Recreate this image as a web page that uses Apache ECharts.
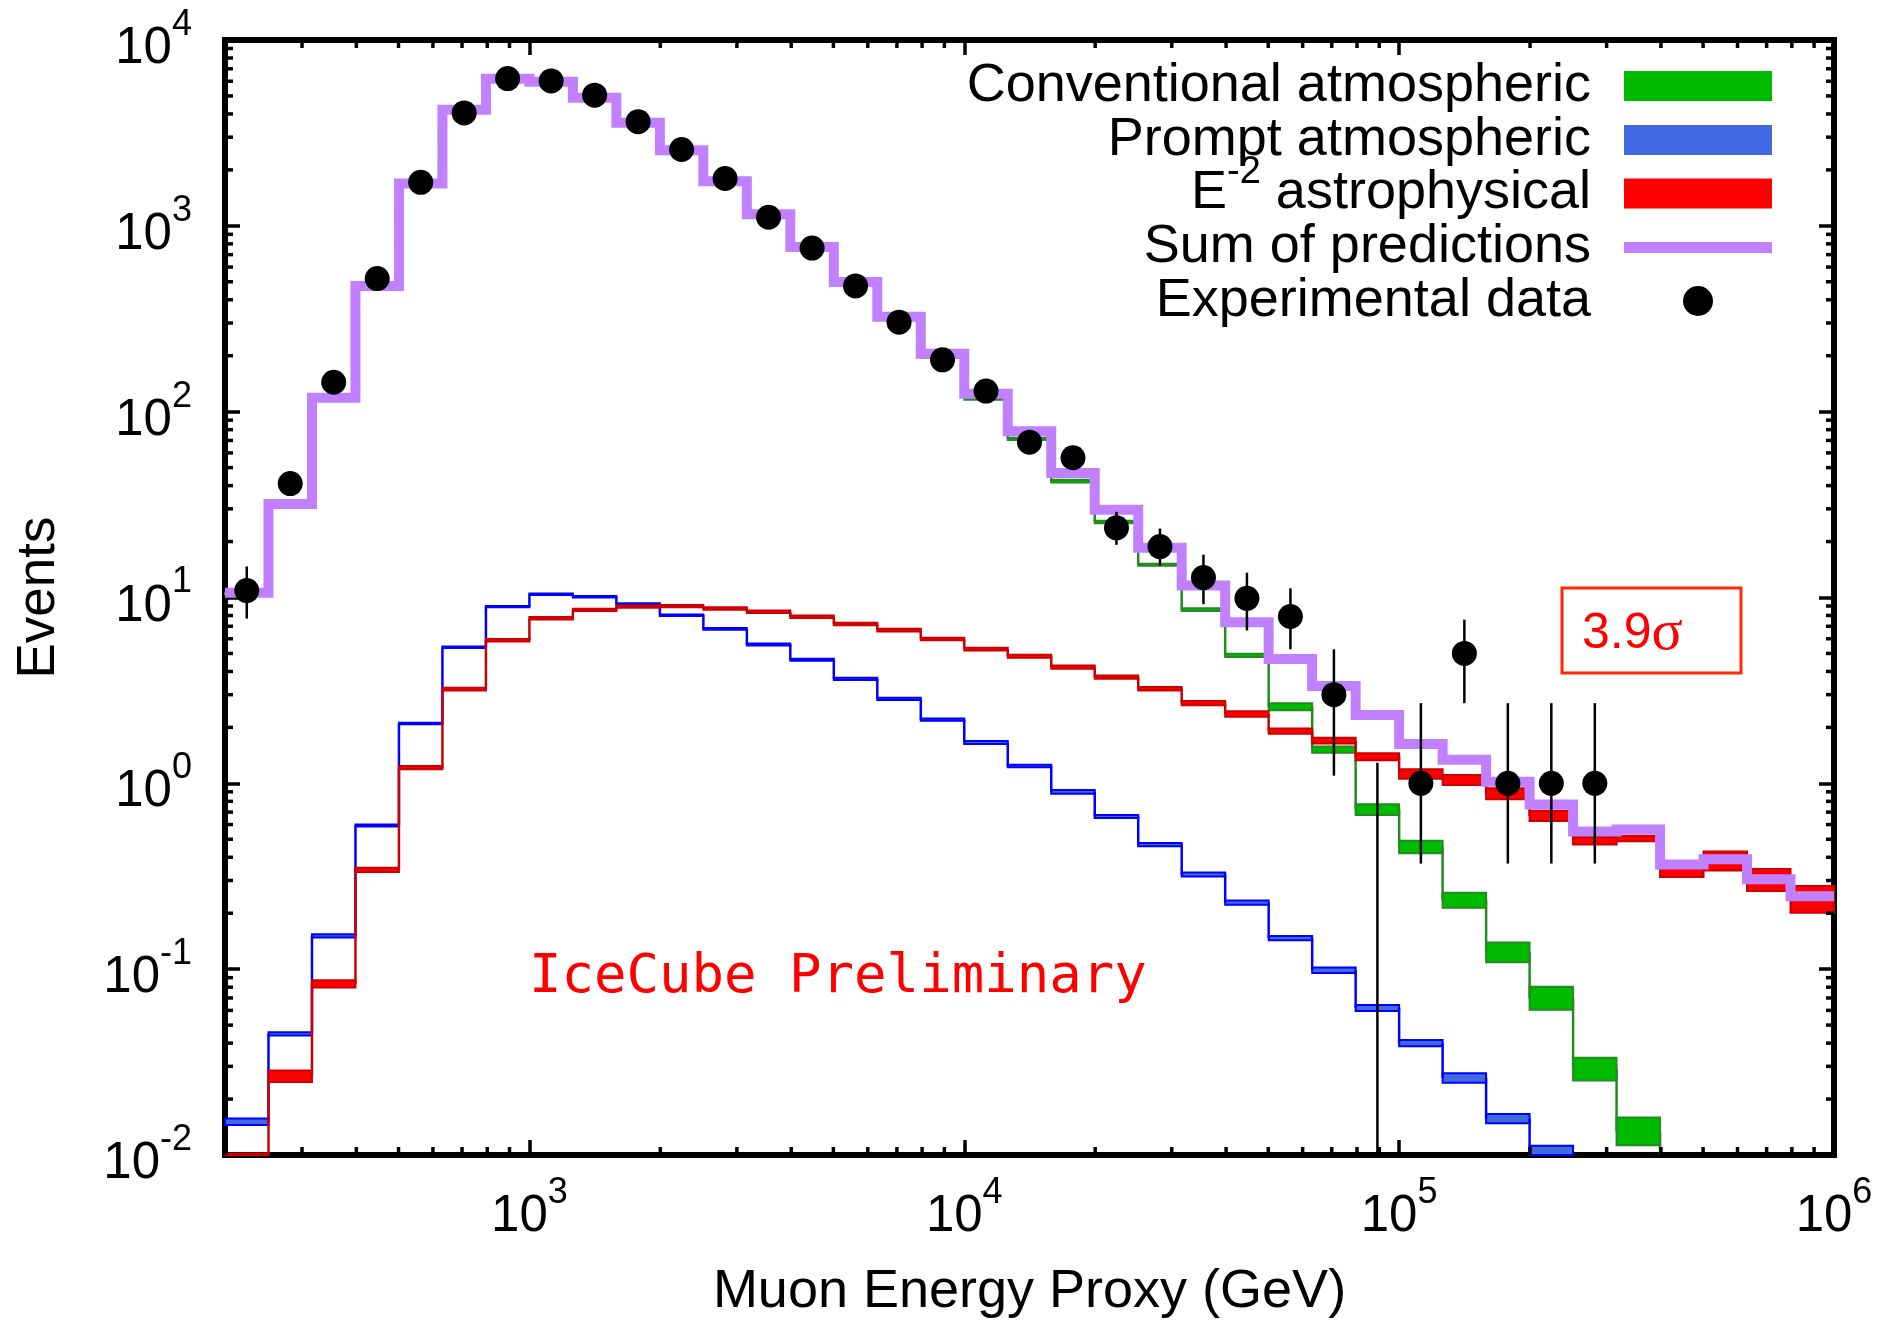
<!DOCTYPE html>
<html>
<head>
<meta charset="utf-8">
<title>Muon Energy Proxy</title>
<script src="https://cdn.jsdelivr.net/npm/echarts@6/dist/echarts.min.js"></script>
<style>
  html, body { margin: 0; padding: 0; background: #fff; }
  #chart { width: 1898px; height: 1324px; }
</style>
</head>
<body>
<div id="chart"></div>
<script>
// bin edges, log10(E / GeV)
const edgeExp = [2.3, 2.4, 2.5, 2.6, 2.7, 2.8, 2.9, 3.0, 3.1, 3.2, 3.3, 3.4, 3.5, 3.6, 3.7, 3.8, 3.9,
  4.0, 4.1, 4.2, 4.3, 4.4, 4.5, 4.6, 4.7, 4.8, 4.9, 5.0, 5.1, 5.2, 5.3, 5.4, 5.5, 5.6, 5.7, 5.8, 5.9, 6.0];

// one value per bin (37 bins)
const sumPred = [10.6, 31.9, 119, 475, 1690, 4220, 6180, 5960, 4890, 3590, 2550, 1740, 1155, 769, 499, 324, 205,
  125, 78.5, 46.8, 29.7, 18.5, 11.6, 7.35, 4.66, 3.34, 2.33, 1.63, 1.34, 1.02, 0.77, 0.55, 0.565, 0.366, 0.39, 0.305, 0.247];

const dataEvents = [10.9, 41, 144, 520, 1715, 4050, 6200, 6020, 5050, 3635, 2575, 1798, 1112, 759, 475, 303, 190,
  129, 68.5, 56.5, 23.7, 18.8, 12.8, 9.9, 7.9, 3.0, null, 1, 5, 1, 1, 1, null, null, null, null, null];
const errLo = [7.7, null, null, null, null, null, null, null, null, null, null, null, null, null, null, null, null,
  null, null, null, 19.2, 14.8, 9.2, 6.65, 5.26, 1.1, 0.001, 0.37, 2.7, 0.37, 0.37, 0.37, null, null, null, null, null];
const errHi = [14.7, null, null, null, null, null, null, null, null, null, null, null, null, null, null, null, null,
  null, null, null, 28.9, 23.5, 17, 13.6, 11.2, 5.26, 1.29, 2.7, 7.6, 2.7, 2.7, 2.7, null, null, null, null, null];

const convLo = [10.4, 31.5, 118, 470, 1680, 4180, 6120, 5900, 4840, 3550, 2520, 1715, 1130, 750, 484, 311, 195,
  116, 70.3, 41.6, 25.1, 14.8, 8.45, 4.78, 2.47, 1.46, 0.676, 0.421, 0.214, 0.109, 0.0605, 0.0252, 0.0113, 0.0048, null, null, null];
const convHi = [10.6, 32.1, 120, 478, 1700, 4230, 6200, 5980, 4900, 3600, 2550, 1740, 1150, 762, 492, 317, 199,
  120, 72.3, 43, 25.9, 15.2, 8.75, 4.98, 2.70, 1.58, 0.771, 0.491, 0.258, 0.139, 0.0803, 0.0334, 0.0159, 0.0068, null, null, null];

const promptLo = [0.0145, 0.044, 0.148, 0.585, 2.08, 5.35, 8.85, 10.3, 10.0, 9.1, 7.95, 6.7, 5.52, 4.57, 3.6, 2.81, 2.17,
  1.63, 1.22, 0.88, 0.65, 0.458, 0.315, 0.222, 0.143, 0.0955, 0.0595, 0.0385, 0.0245, 0.0148, 0.0100, null, null, null, null, null, null];
const promptHi = [0.0157, 0.0458, 0.154, 0.6, 2.12, 5.45, 9.0, 10.5, 10.2, 9.3, 8.1, 6.85, 5.65, 4.68, 3.7, 2.89, 2.23,
  1.69, 1.26, 0.92, 0.675, 0.478, 0.331, 0.234, 0.151, 0.102, 0.0642, 0.0416, 0.0275, 0.0166, 0.0112, null, null, null, null, null, null];

const astroLo = [0.0098, 0.0247, 0.0798, 0.333, 1.19, 3.16, 5.8, 7.62, 8.45, 8.8, 8.85, 8.6, 8.25, 7.75, 7.08, 6.57, 5.88,
  5.19, 4.74, 4.14, 3.65, 3.16, 2.63, 2.28, 1.85, 1.64, 1.33, 1.06, 0.98, 0.82, 0.628, 0.468, 0.488, 0.313, 0.34, 0.263, 0.201];
const astroHi = [0.0102, 0.0285, 0.0873, 0.351, 1.24, 3.27, 5.98, 7.85, 8.7, 9.05, 9.1, 8.85, 8.5, 8.0, 7.32, 6.8, 6.08,
  5.37, 4.92, 4.3, 3.8, 3.3, 2.77, 2.44, 1.97, 1.76, 1.45, 1.19, 1.11, 0.94, 0.711, 0.514, 0.523, 0.38, 0.43, 0.346, 0.28];

const legendNames = ['Conventional atmospheric', 'Prompt atmospheric', 'E-2 astrophysical',
  'Sum of predictions', 'Experimental data'];

const edges = edgeExp.map(e => Math.pow(10, e));
const xMin = edges[0], xMax = edges[edges.length - 1];
const yMin = 0.01, yMax = 10000;
const font = 'Liberation Sans';

function bandData(lo, hi) {
  const out = [];
  for (let i = 0; i < lo.length; i++) {
    if (lo[i] == null) continue;
    const prev = i > 0 && lo[i - 1] != null ? Math.sqrt(lo[i - 1] * hi[i - 1]) : null;
    out.push([edges[i], edges[i + 1], lo[i], hi[i], prev]);
  }
  return out;
}

function clampY(cs, y) {
  return Math.min(Math.max(y, cs.y), cs.y + cs.height);
}

function bandRenderer(fill, stroke) {
  return function (params, api) {
    const cs = params.coordSys;
    const x0 = api.value(0), x1 = api.value(1);
    const lo = api.value(2), hi = api.value(3), prev = api.value(4);
    const a = api.coord([x0, hi]), b = api.coord([x1, lo]);
    const mid = api.coord([x0, Math.sqrt(lo * hi)]);
    const children = [];
    if (a[1] < cs.y + cs.height) {
      const top = clampY(cs, a[1]), bot = clampY(cs, b[1]);
      children.push({
        type: 'rect',
        shape: { x: a[0], y: top, width: b[0] - a[0], height: Math.max(bot - top, 0.5) },
        style: { fill: fill, stroke: stroke, lineWidth: 2 }
      });
    }
    if (!isNaN(prev)) {
      const p = api.coord([x0, prev]);
      children.push({
        type: 'line',
        shape: { x1: a[0], y1: clampY(cs, p[1]), x2: a[0], y2: clampY(cs, mid[1]) },
        style: { stroke: stroke, lineWidth: 2.5 }
      });
    }
    return { type: 'group', children: children };
  };
}

// data points, error bars
const points = [];
const bars = [];
for (let i = 0; i < dataEvents.length; i++) {
  const xc = Math.sqrt(edges[i] * edges[i + 1]);
  if (dataEvents[i] != null) points.push([xc, dataEvents[i]]);
  if (errLo[i] != null) bars.push([xc, errLo[i], errHi[i]]);
}

const sumLine = edges.map((e, i) => [e, sumPred[Math.min(i, sumPred.length - 1)]]);

// minor ticks at 2..9 x 10^n
const minorTicks = [];
for (let n = 2; n <= 5; n++) {
  for (let k = 2; k <= 9; k++) {
    const v = k * Math.pow(10, n);
    if (v > xMin && v < xMax) minorTicks.push([v, 1, 0]);
  }
}
for (let n = -2; n <= 3; n++) {
  for (let k = 2; k <= 9; k++) minorTicks.push([1000, k * Math.pow(10, n), 1]);
}

function powLabel(v) {
  const l = Math.log10(v);
  const e = Math.round(l);
  if (Math.abs(l - e) > 1e-6) return '';
  return '{b|10}{s|' + e + '}';
}

const labelRich = {
  b: { fontSize: 51, fontFamily: font, color: '#000', lineHeight: 84 },
  s: { fontSize: 36, fontFamily: font, color: '#000', lineHeight: 36, verticalAlign: 'top' }
};

const axisLineStyle = { color: '#000', width: 6, cap: 'square' };
const majorTick = { show: true, inside: true, length: 15, lineStyle: { color: '#000', width: 3.5 } };

// legend: one block per entry so the rows sit exactly where they should
const legendRich = {
  t: { fontSize: 54, fontFamily: font, color: '#000', lineHeight: 30, padding: [0, 28, 0, 0] },
  e: { fontSize: 54, fontFamily: font, color: '#000', lineHeight: 30 },
  sup: { fontSize: 38, fontFamily: font, color: '#000', lineHeight: 30, padding: [0, 0, 42, 0] }
};
const legendItems = [
  { name: legendNames[0], icon: 'rect' },
  { name: legendNames[1], icon: 'rect' },
  { name: legendNames[2], icon: 'rect' },
  { name: legendNames[3], icon: 'path://M0,0H148V11H0Z' },
  { name: legendNames[4], icon: 'circle' }
];
const legendTops = [59, 113, 153.5, 220.5, 274];
const legendRights = [126, 126, 126, 126, 185];
const legends = legendItems.map((item, i) => ({
  orient: 'vertical',
  align: 'right',
  right: legendRights[i],
  top: legendTops[i],
  padding: 0,
  itemWidth: 148,
  itemHeight: 30,
  selectedMode: false,
  data: [item],
  formatter: function (name) {
    if (name === legendNames[2]) return '{e|E}{sup|-2}{t| astrophysical}';
    return '{t|' + name + '}';
  },
  textStyle: { rich: legendRich }
}));

const chart = echarts.init(document.getElementById('chart'));

const option = {
  animation: false,
  backgroundColor: '#fff',
  grid: { left: 225, right: 64, top: 40, bottom: 163 },
  xAxis: [
    {
      type: 'log', logBase: 10, min: xMin, max: xMax, position: 'bottom',
      name: 'Muon Energy Proxy (GeV)', nameLocation: 'middle', nameGap: 110,
      nameTextStyle: { fontSize: 54, fontFamily: font, color: '#000' },
      axisLine: { lineStyle: axisLineStyle },
      axisTick: majorTick,
      splitLine: { show: false },
      axisLabel: { margin: 20, formatter: powLabel, rich: labelRich }
    },
    {
      type: 'log', logBase: 10, min: xMin, max: xMax, position: 'top',
      axisLine: { lineStyle: axisLineStyle },
      axisTick: majorTick,
      splitLine: { show: false },
      axisLabel: { show: false }
    }
  ],
  yAxis: [
    {
      type: 'log', logBase: 10, min: yMin, max: yMax, position: 'left',
      name: 'Events', nameLocation: 'middle', nameGap: 159,
      nameTextStyle: { fontSize: 53, fontFamily: font, color: '#000' },
      axisLine: { lineStyle: axisLineStyle },
      axisTick: majorTick,
      splitLine: { show: false },
      axisLabel: { margin: 33, padding: [18, 0, 0, 0], formatter: powLabel, rich: labelRich }
    },
    {
      type: 'log', logBase: 10, min: yMin, max: yMax, position: 'right',
      axisLine: { lineStyle: axisLineStyle },
      axisTick: majorTick,
      splitLine: { show: false },
      axisLabel: { show: false }
    }
  ],
  legend: legends,
  graphic: [
    {
      type: 'text', x: 529, y: 978, z: 20,
      style: { text: 'IceCube Preliminary', fontSize: 54, fontFamily: 'DejaVu Sans Mono',
        fill: '#ff0000', verticalAlign: 'middle' }
    },
    {
      type: 'rect', z: 20,
      shape: { x: 1562, y: 588, width: 179, height: 85 },
      style: { fill: 'none', stroke: '#ff2a00', lineWidth: 3 }
    },
    {
      type: 'text', x: 1582, y: 634, z: 20,
      style: {
        text: '{a|3.9}{g|σ}', verticalAlign: 'middle', fill: '#ff0000',
        rich: {
          a: { fontSize: 50, fontFamily: font, fill: '#ff0000' },
          g: { fontSize: 58, fontFamily: 'Liberation Serif', fill: '#ff0000' }
        }
      }
    }
  ],
  series: [
    {
      name: legendNames[0], type: 'custom', z: 2,
      itemStyle: { color: '#00bb00' },
      renderItem: bandRenderer('#00bb00', '#228b22'),
      data: bandData(convLo, convHi)
    },
    {
      name: legendNames[1], type: 'custom', z: 3,
      itemStyle: { color: '#4169e1' },
      renderItem: bandRenderer('#4169e1', '#0000ff'),
      data: bandData(promptLo, promptHi)
    },
    {
      name: legendNames[2], type: 'custom', z: 4,
      itemStyle: { color: '#ff0000' },
      renderItem: bandRenderer('#ff0000', '#cc0000'),
      data: bandData(astroLo, astroHi)
    },
    {
      name: legendNames[3], type: 'line', z: 5,
      step: 'end', symbol: 'none', showSymbol: false,
      lineStyle: { color: '#c080ff', width: 10, join: 'miter', cap: 'butt' },
      itemStyle: { color: '#c080ff' },
      data: sumLine
    },
    {
      name: 'errors', type: 'custom', z: 6, silent: true,
      renderItem: function (params, api) {
        const cs = params.coordSys;
        const lo = api.coord([api.value(0), api.value(1)]);
        const hi = api.coord([api.value(0), api.value(2)]);
        return {
          type: 'line',
          shape: { x1: lo[0], y1: clampY(cs, lo[1]), x2: hi[0], y2: clampY(cs, hi[1]) },
          style: { stroke: '#000', lineWidth: 2.5 }
        };
      },
      data: bars
    },
    {
      name: legendNames[4], type: 'scatter', z: 7,
      symbol: 'circle', symbolSize: 25,
      itemStyle: { color: '#000', opacity: 1 },
      data: points
    },
    {
      name: 'minor ticks', type: 'custom', z: 8, silent: true,
      renderItem: function (params, api) {
        const cs = params.coordSys;
        const len = 8;
        const st = { stroke: '#000', lineWidth: 3.5 };
        if (api.value(2) === 0) {
          const px = api.coord([api.value(0), 1])[0];
          const b = cs.y + cs.height;
          return { type: 'group', children: [
            { type: 'line', shape: { x1: px, y1: b, x2: px, y2: b - len }, style: st },
            { type: 'line', shape: { x1: px, y1: cs.y, x2: px, y2: cs.y + len }, style: st }
          ] };
        }
        const py = api.coord([1000, api.value(1)])[1];
        const r = cs.x + cs.width;
        return { type: 'group', children: [
          { type: 'line', shape: { x1: cs.x, y1: py, x2: cs.x + len, y2: py }, style: st },
          { type: 'line', shape: { x1: r, y1: py, x2: r - len, y2: py }, style: st }
        ] };
      },
      data: minorTicks
    }
  ]
};

chart.setOption(option);
</script>
</body>
</html>
